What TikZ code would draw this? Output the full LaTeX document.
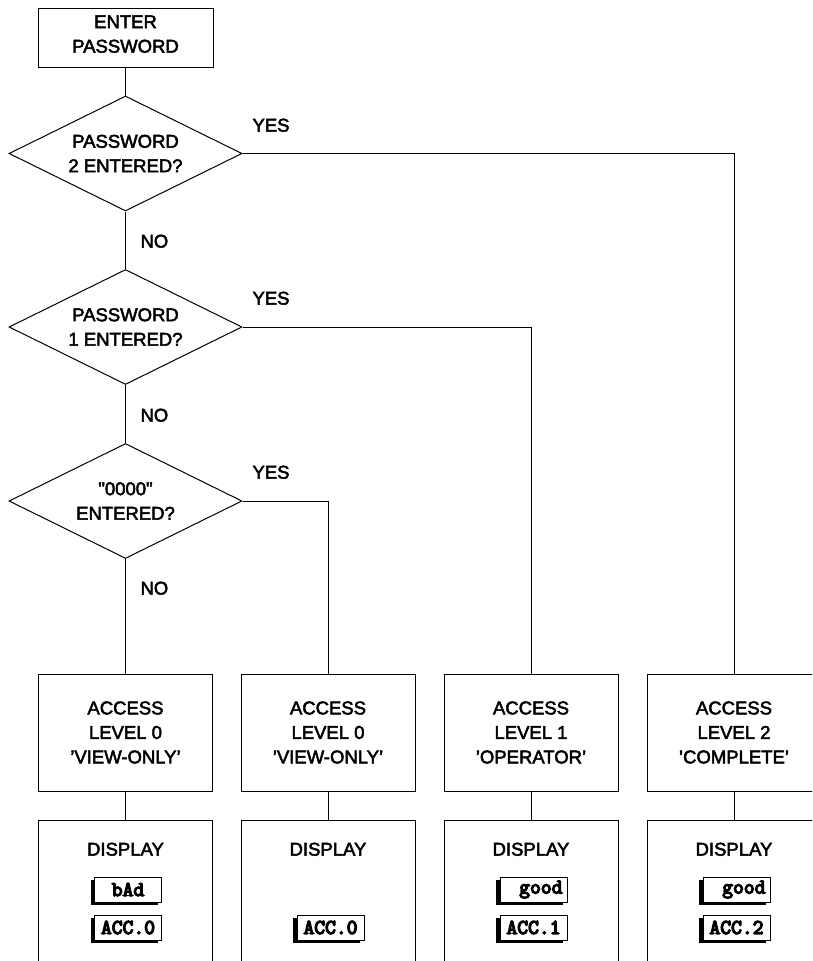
\documentclass[tikz,border=0pt]{standalone}
\usepackage{fontspec}
\setmainfont[FakeBold=2.6]{Liberation Sans}
\newfontfamily\straightquotes[FakeBold=2.6,Ligatures=TeXOff]{Liberation Sans}
\newfontfamily\lcdfont[FakeBold=6]{Latin Modern Mono}
\usetikzlibrary{shapes.geometric,shadows}

\begin{document}
\begin{tikzpicture}[x=1pt,y=-1pt,line width=1pt,
  every node/.style={font=\fontsize{18.5}{24.5}\selectfont},
  box/.style={draw,rectangle,inner sep=0pt,align=center,
    minimum width=174pt,minimum height=117pt},
  decision/.style={draw,diamond,shape aspect=2,inner sep=0pt,align=center,
    minimum width=233pt,minimum height=115pt},
  tag/.style={anchor=base west,inner sep=0pt},
  disp/.style={draw,rectangle,inner sep=0pt,anchor=north,
    minimum width=174pt,minimum height=170pt},
  disptitle/.style={anchor=base,inner sep=0pt},
  lcd/.style={draw,fill=white,line width=0.8pt,inner sep=0pt,
    minimum width=67pt,minimum height=25pt,text width=58pt,align=center,
    font=\lcdfont\fontsize{21}{21}\selectfont,
    general shadow={fill=black,shadow xshift=-4pt,shadow yshift=-3pt}},
  link/.style={draw,line width=1pt}
]
\clip (0,0) rectangle (812,961);

% start and the three password checks
\node[box,minimum width=175pt,minimum height=59pt,text depth=7pt] (enter) at (125.5,37.5) {ENTER\\PASSWORD};
\node[decision] (q2) at (125.5,153.5) {PASSWORD\\2 ENTERED?};
\node[decision] (q1) at (125.5,327) {PASSWORD\\1 ENTERED?};
\node[decision] (q0) at (125.5,501) {{\straightquotes"0000"}\\ENTERED?};

% access levels
\node[box] (a1) at (125.5,732.5) {ACCESS\\LEVEL 0\\'VIEW-ONLY'};
\node[box] (a2) at (328,732.5) {ACCESS\\LEVEL 0\\'VIEW-ONLY'};
\node[box] (a3) at (531,732.5) {ACCESS\\LEVEL 1\\'OPERATOR'};
\node[box] (a4) at (734,732.5) {ACCESS\\LEVEL 2\\'COMPLETE'};

% display panels
\node[disp] (d1) at (125.5,820) {};
\node[disp] (d2) at (328,820) {};
\node[disp] (d3) at (531,820) {};
\node[disp] (d4) at (734,820) {};
\node[disptitle] (t1) at (125.5,855.6) {DISPLAY};
\node[disptitle] (t2) at (328,855.6) {DISPLAY};
\node[disptitle] (t3) at (531,855.6) {DISPLAY};
\node[disptitle] (t4) at (734,855.6) {DISPLAY};

% display readouts
\node[lcd] (r1a) at (128,889.5) {bAd};
\node[lcd] (r1b) at (128,927.5) {ACC.0};
\node[lcd] (r2b) at (330.5,927.5) {ACC.0};
\node[lcd,align=right] (r3a) at (533.5,889.5) {good};
\node[lcd] (r3b) at (533.5,927.5) {ACC.1};
\node[lcd,align=right] (r4a) at (736.5,889.5) {good};
\node[lcd] (r4b) at (736.5,927.5) {ACC.2};

% branch labels
\node[tag] (y2) at (252,131.6) {YES};
\node[tag] (y1) at (252,304.6) {YES};
\node[tag] (y0) at (252,478.6) {YES};
\node[tag] (n2) at (140,247.6) {NO};
\node[tag] (n1) at (140,421.6) {NO};
\node[tag] (n0) at (140,594.6) {NO};

% connectors
\draw[link] (enter.south) -- (q2.north);
\draw[link] (q2.south) -- (q1.north);
\draw[link] (q1.south) -- (q0.north);
\draw[link] (q0.south) -- (a1.north);
\draw[link] (q2.east) -| (a4.north);
\draw[link] (q1.east) -| (a3.north);
\draw[link] (q0.east) -| (a2.north);
\draw[link] (a1.south) -- (d1.north);
\draw[link] (a2.south) -- (d2.north);
\draw[link] (a3.south) -- (d3.north);
\draw[link] (a4.south) -- (d4.north);
\end{tikzpicture}
\end{document}
